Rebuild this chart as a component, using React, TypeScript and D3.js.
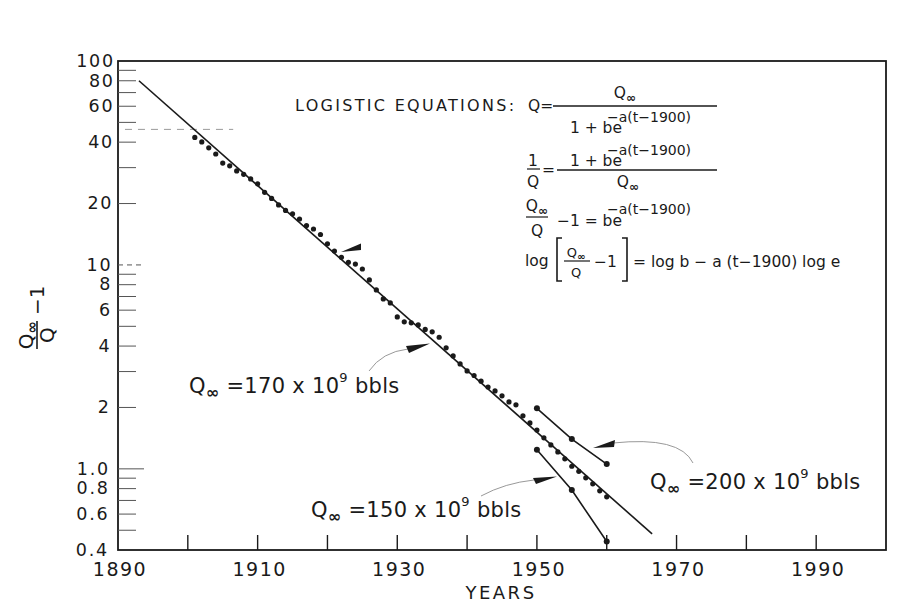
import React from "react";
import * as d3 from "d3";

// ---- data ----
const MAIN_YEARS = [
  1901, 1902, 1903, 1904, 1905, 1906, 1907, 1908, 1909, 1910,
  1911, 1912, 1913, 1914, 1915, 1916, 1917, 1918, 1919, 1920,
  1921, 1922, 1923, 1924, 1925, 1926, 1927, 1928, 1929, 1930,
  1931, 1932, 1933, 1934, 1935, 1936, 1937, 1938, 1939, 1940,
  1941, 1942, 1943, 1944, 1945, 1946, 1947, 1948, 1949, 1950,
  1951, 1952, 1953, 1954, 1955, 1956, 1957, 1958, 1959, 1960,
];
const MAIN_VALUES = [
  42.2, 40.1, 37.5, 35.0, 31.6, 30.6, 28.9, 27.8, 26.4, 25.0,
  22.7, 21.2, 19.7, 18.5, 17.8, 16.8, 15.6, 15.0, 14.1, 12.7,
  11.7, 10.9, 10.3, 10.1, 9.55, 8.44, 7.54, 6.81, 6.51, 5.56,
  5.26, 5.2, 5.08, 4.83, 4.7, 4.42, 3.92, 3.58, 3.27, 3.02,
  2.87, 2.69, 2.52, 2.41, 2.28, 2.13, 2.06, 1.82, 1.68, 1.55,
  1.42, 1.31, 1.21, 1.12, 1.03, 0.972, 0.904, 0.844, 0.78, 0.729,
];
const FIT_YEARS = [1893, 1966.5];
const FIT_VALUES = [80, 0.48];
const Q200_YEARS = [1950, 1955, 1960];
const Q200_VALUES = [1.98, 1.4, 1.055];
const Q150_YEARS = [1950, 1955, 1960];
const Q150_VALUES = [1.24, 0.787, 0.44];
const DASH_YEARS = [1891, 1906.5];
const DASH_VALUE = 46.2;

const X_TICKS = [1900, 1910, 1920, 1930, 1940, 1950, 1960, 1970, 1980, 1990];
const X_LABELS = [1890, 1910, 1930, 1950, 1970, 1990];
const Y_LABEL_VALUES = [100, 80, 60, 40, 20, 10, 8, 6, 4, 2, 1, 0.8, 0.6, 0.4];
const Y_LABEL_TEXT = ["100", "80", "60", "40", "20", "10", "8", "6", "4", "2", "1.0", "0.8", "0.6", "0.4"];
const Y_MINOR = [90, 80, 70, 60, 50, 40, 30, 20, 9, 8, 7, 6, 5, 4, 3, 2, 0.9, 0.8, 0.7, 0.6, 0.5];
const Y_MAJOR = [10, 1];

const W = 899;
const H = 613;
const FONT = "'DejaVu Sans', Verdana, sans-serif";
const INK = "#1a1a1a";

const x = d3.scaleLinear().domain([1890, 2000]).range([118, 886]);
const y = d3.scaleLog().domain([0.4, 100]).range([550, 61]);

function QInf({ x: px, y: py, size, anchor }: { x: number; y: number; size: number; anchor?: string }) {
  return (
    <text x={px} y={py} fontSize={size} fontFamily={FONT} fill={INK} textAnchor={anchor || "middle"}>
      <tspan>Q</tspan>
      <tspan fontSize={size * 0.78} dy={size * 0.25} fontWeight="bold">∞</tspan>
    </text>
  );
}

function BigLabel({ x: px, y: py, num }: { x: number; y: number; num: string }) {
  const s = 21;
  return (
    <text x={px} y={py} fontSize={s} fontFamily={FONT} fill={INK} letterSpacing={0.3}>
      <tspan>Q</tspan>
      <tspan fontSize={16} dy={5} fontWeight="bold">∞</tspan>
      <tspan dy={-5}>{` =${num} x 10`}</tspan>
      <tspan fontSize={13} dy={-11}>9</tspan>
      <tspan dy={11}> bbls</tspan>
    </text>
  );
}

export default function App() {
  const line = d3
    .line<[number, number]>()
    .x((d) => x(d[0]))
    .y((d) => y(d[1]));
  const fit = line(FIT_YEARS.map((t, i) => [t, FIT_VALUES[i]]));
  const q200 = line(Q200_YEARS.map((t, i) => [t, Q200_VALUES[i]]));
  const q150 = line(Q150_YEARS.map((t, i) => [t, Q150_VALUES[i]]));

  const x0 = x(1890);
  const x1 = x(2000);
  const yTop = y(100);
  const yBot = y(0.4);

  const eqFs = 15.5;

  return (
    <svg width={W} height={H} style={{ position: "absolute", left: 0, top: 0, background: "#fff" }}>
      <rect x={0} y={0} width={W} height={H} fill="#fff" />
      {/* frame */}
      <rect x={x0} y={yTop} width={x1 - x0} height={yBot - yTop} fill="none" stroke={INK} strokeWidth={1.8} />

      {/* x ticks */}
      {X_TICKS.map((t) => (
        <line key={t} x1={x(t)} x2={x(t)} y1={yBot} y2={yBot - 15} stroke={INK} strokeWidth={1.4} />
      ))}
      {X_LABELS.map((t) => (
        <text key={t} x={x(t) + 2} y={yBot + 26} fontSize={19} fontFamily={FONT} fill={INK} textAnchor="middle" letterSpacing={1.5}>
          {t}
        </text>
      ))}
      <text x={501} y={599} fontSize={18} fontFamily={FONT} fill={INK} textAnchor="middle" letterSpacing={2.5}>
        YEARS
      </text>

      {/* y ticks */}
      {Y_MINOR.map((v) => (
        <line key={"m" + v} x1={x0} x2={x0 + 18} y1={y(v)} y2={y(v)} stroke="#555" strokeWidth={1} />
      ))}
      {Y_MAJOR.map((v) => (
        <line key={"M" + v} x1={x0} x2={x0 + 26} y1={y(v)} y2={y(v)} stroke="#555" strokeWidth={1} strokeDasharray={v === 10 ? "5 4" : undefined} />
      ))}
      {Y_LABEL_VALUES.map((v, i) => (
        <text key={"l" + v} x={x0 - 3 - ((y(v) - yTop) / (yBot - yTop)) * 6} y={y(v) + 5.8} fontSize={17.5} fontFamily={FONT} fill={INK} textAnchor="end" letterSpacing={1.8}>
          {Y_LABEL_TEXT[i]}
        </text>
      ))}

      {/* y axis title */}
      <g transform="translate(37,335) rotate(-90)">
        <text x={0} y={-4} fontSize={20} fontFamily={FONT} fill={INK} textAnchor="middle">
          <tspan>Q</tspan>
          <tspan fontSize={15} dy={4} fontWeight="bold">∞</tspan>
        </text>
        <line x1={-14} x2={14} y1={0} y2={0} stroke={INK} strokeWidth={1.6} />
        <text x={0} y={17} fontSize={20} fontFamily={FONT} fill={INK} textAnchor="middle">Q</text>
        <text x={20} y={7} fontSize={20} fontFamily={FONT} fill={INK}>−1</text>
      </g>

      {/* dashed reference line */}
      <line x1={x(DASH_YEARS[0])} x2={x(DASH_YEARS[1])} y1={y(DASH_VALUE)} y2={y(DASH_VALUE)} stroke="#999" strokeWidth={1} strokeDasharray="7 6" />

      {/* fitted lines */}
      <path d={fit || ""} fill="none" stroke={INK} strokeWidth={1.6} />
      <path d={q200 || ""} fill="none" stroke={INK} strokeWidth={1.6} />
      <path d={q150 || ""} fill="none" stroke={INK} strokeWidth={1.6} />

      {/* data points */}
      {MAIN_YEARS.map((t, i) => (
        <circle key={"d" + t} cx={x(t)} cy={y(MAIN_VALUES[i])} r={2.6} fill={INK} />
      ))}
      {Q200_YEARS.map((t, i) => (
        <circle key={"a" + t} cx={x(t)} cy={y(Q200_VALUES[i])} r={3} fill={INK} />
      ))}
      {Q150_YEARS.map((t, i) => (
        <circle key={"b" + t} cx={x(t)} cy={y(Q150_VALUES[i])} r={3} fill={INK} />
      ))}

      {/* annotation leaders and arrowheads */}
      <path d="M369,371 Q382,352 408,349" fill="none" stroke="#999" strokeWidth={1} />
      <path d="M430,343.5 L406,346 L409,353 Z" fill={INK} />
      <path d="M481,496 Q505,483 534,480" fill="none" stroke="#999" strokeWidth={1} />
      <path d="M557,476.5 L533,478 L536,484 Z" fill={INK} />
      <path d="M693,463 Q680,436 613,443" fill="none" stroke="#999" strokeWidth={1} />
      <path d="M593,448 L615,440 L614,447 Z" fill={INK} />
      <path d="M341,252 L361,243.5 L361,250 Z" fill={INK} />

      {/* labels */}
      <BigLabel x={189} y={393} num="170" />
      <BigLabel x={311} y={517} num="150" />
      <BigLabel x={650} y={489} num="200" />

      {/* equations */}
      <text x={295} y={111} fontSize={16} fontFamily={FONT} fill={INK} letterSpacing={2.3}>
        LOGISTIC EQUATIONS:
      </text>
      <text x={528} y={111} fontSize={eqFs} fontFamily={FONT} fill={INK}>Q=</text>
      <QInf x={625} y={98} size={eqFs} />
      <line x1={553} x2={717} y1={106} y2={106} stroke={INK} strokeWidth={1.3} />
      <text x={622} y={133} fontSize={eqFs} fontFamily={FONT} fill={INK} textAnchor="end">1 + be</text>
      <text x={607} y={122} fontSize={14} fontFamily={FONT} fill={INK}>−a(t−1900)</text>

      <text x={533} y={166} fontSize={eqFs} fontFamily={FONT} fill={INK} textAnchor="middle">1</text>
      <line x1={527} x2={540} y1={169} y2={169} stroke={INK} strokeWidth={1.2} />
      <text x={533} y={187} fontSize={eqFs} fontFamily={FONT} fill={INK} textAnchor="middle">Q</text>
      <text x={542} y={175} fontSize={eqFs} fontFamily={FONT} fill={INK}>=</text>
      <line x1={557} x2={717} y1={170} y2={170} stroke={INK} strokeWidth={1.3} />
      <text x={622} y={166} fontSize={eqFs} fontFamily={FONT} fill={INK} textAnchor="end">1 + be</text>
      <text x={607} y={155} fontSize={14} fontFamily={FONT} fill={INK}>−a(t−1900)</text>
      <QInf x={628} y={187} size={eqFs} />

      <QInf x={537} y={211} size={eqFs} />
      <line x1={526} x2={548} y1={217} y2={217} stroke={INK} strokeWidth={1.2} />
      <text x={537} y={236} fontSize={eqFs} fontFamily={FONT} fill={INK} textAnchor="middle">Q</text>
      <text x={622} y={226} fontSize={eqFs} fontFamily={FONT} fill={INK} textAnchor="end">−1 = be</text>
      <text x={607} y={214} fontSize={14} fontFamily={FONT} fill={INK}>−a(t−1900)</text>

      <text x={525} y={266} fontSize={eqFs} fontFamily={FONT} fill={INK}>log</text>
      <path d="M562,238 L557,238 L557,281 L562,281" fill="none" stroke={INK} strokeWidth={1.6} />
      <QInf x={576} y={257} size={13} />
      <line x1={564} x2={590} y1={261} y2={261} stroke={INK} strokeWidth={1.2} />
      <text x={576} y={277} fontSize={13} fontFamily={FONT} fill={INK} textAnchor="middle">Q</text>
      <text x={594} y={267} fontSize={eqFs} fontFamily={FONT} fill={INK}>−1</text>
      <path d="M622,238 L627,238 L627,281 L622,281" fill="none" stroke={INK} strokeWidth={1.6} />
      <text x={633} y={267} fontSize={eqFs} fontFamily={FONT} fill={INK}>= log b − a (t−1900) log e</text>
    </svg>
  );
}
